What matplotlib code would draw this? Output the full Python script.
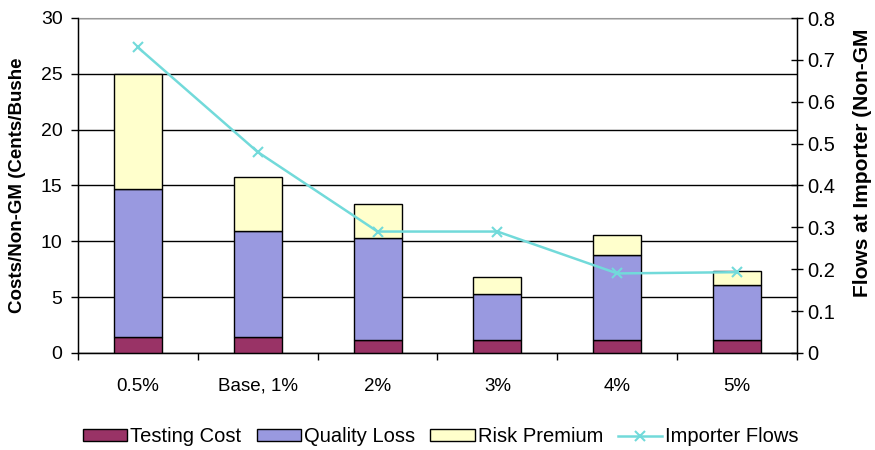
import matplotlib
matplotlib.use("Agg")
import matplotlib.pyplot as plt
import numpy as np
from matplotlib.ticker import FixedLocator, NullFormatter

plt.rcParams["font.family"] = ["Liberation Sans", "DejaVu Sans"]

categories = ["0.5%", "Base, 1%", "2%", "3%", "4%", "5%"]
testing_cost = [1.4, 1.4, 1.2, 1.2, 1.2, 1.2]
quality_loss = [13.3, 9.5, 9.1, 4.1, 7.6, 4.9]
risk_premium = [10.3, 4.9, 3.0, 1.5, 1.8, 1.2]
importer_flows = [0.73, 0.48, 0.29, 0.29, 0.19, 0.193]

colors = {
    "testing": "#993366",
    "quality": "#9999e0",
    "risk": "#ffffcc",
    "flows": "#72dada",
}

x = np.arange(len(categories))
width = 0.4

fig = plt.figure(figsize=(8.75, 4.5), dpi=100)
ax = fig.add_axes([0.089, 0.2156, 0.822, 0.7444])

bottom = np.zeros(len(categories))
handles = []
for vals, key, label in [
    (testing_cost, "testing", "Testing Cost"),
    (quality_loss, "quality", "Quality Loss"),
    (risk_premium, "risk", "Risk Premium"),
]:
    b = ax.bar(x, vals, width, bottom=bottom, color=colors[key],
               edgecolor="black", linewidth=1.0, label=label, zorder=3)
    handles.append(b)
    bottom += np.array(vals)

ax.set_xlim(-0.5, len(categories) - 0.5)
ax.set_ylim(0, 30)
ax.set_yticks(np.arange(0, 31, 5))
ax.yaxis.grid(True, color="black", linewidth=1.0, zorder=0)
ax.set_axisbelow(True)
ax.tick_params(axis="y", labelsize=14, direction="out", length=5, width=1, pad=6)

# ticks between categories, labels at centres
ax.xaxis.set_major_locator(FixedLocator(np.arange(-0.5, len(categories), 1.0)))
ax.xaxis.set_major_formatter(NullFormatter())
ax.xaxis.set_minor_locator(FixedLocator(x))
ax.set_xticklabels(categories, minor=True, fontsize=13.5)
ax.tick_params(axis="x", which="major", direction="out", length=5, width=1)
ax.tick_params(axis="x", which="minor", length=0, pad=18)

ax.spines["top"].set_color("#999999")
for s in ["left", "bottom", "right"]:
    ax.spines[s].set_linewidth(1.0)

ax2 = ax.twinx()
line, = ax2.plot(x, importer_flows, color=colors["flows"], marker="x",
                 markersize=7, markeredgewidth=1.5, linewidth=1.8,
                 label="Importer Flows", zorder=4)
ax2.set_ylim(0, 0.8)
ax2.set_yticks(np.arange(0, 0.81, 0.1))
ax2.set_yticklabels(["0"] + [f"{v:.1f}" for v in np.arange(0.1, 0.81, 0.1)])
ax2.tick_params(axis="y", labelsize=14.5, direction="inout", length=9, width=1, pad=3)
ax2.spines["top"].set_visible(False)

# axis titles (truncated as in the original)
fig.text(18 / 875, 1 - 185 / 450, "Costs/Non-GM (Cents/Bushe", rotation=90,
         ha="center", va="center", fontsize=13.5, fontweight="bold")
fig.text(862 / 875, 1 - 297 / 450, "Flows at Importer (Non-GM", rotation=90,
         ha="center", va="bottom", fontsize=15, fontweight="bold")

fig.legend(handles + [line], ["Testing Cost", "Quality Loss", "Risk Premium", "Importer Flows"],
           loc="center", bbox_to_anchor=(441 / 875, 1 - 437 / 450), ncol=4, frameon=False,
           fontsize=14.5, handlelength=2.2, handleheight=0.55, handletextpad=0.15,
           columnspacing=0.75, borderaxespad=0)

fig.savefig("out.png", dpi=100)
